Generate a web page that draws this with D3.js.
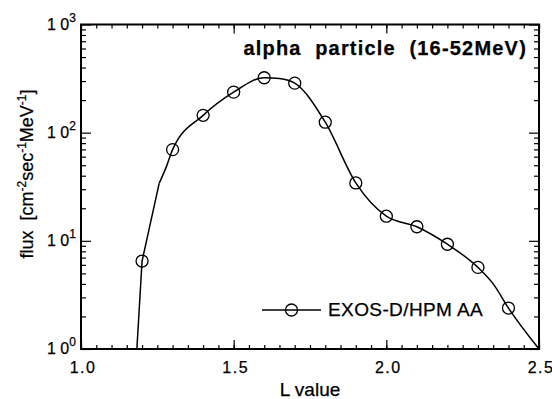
<!DOCTYPE html>
<html>
<head>
<meta charset="utf-8">
<script src="https://cdn.jsdelivr.net/npm/d3@7"></script>
<style>
  html, body { margin: 0; padding: 0; background: #fff; }
  svg { display: block; }
  text { font-family: "Liberation Sans", Arial, Helvetica, sans-serif; fill: #000; stroke: #000; stroke-width: 0.25px; }
</style>
</head>
<body>
<svg id="chart" width="552" height="399"></svg>
<script>
// Measured points (open circles)
const lValues = [1.2, 1.3, 1.4, 1.5, 1.6, 1.7, 1.8, 1.9, 2.0, 2.1, 2.2, 2.3, 2.4];
const fluxValues = [6.5, 69.7, 144.6, 237, 322, 287, 125, 34.3, 16.9, 13.5, 9.3, 5.68, 2.39];

// Model curve: steep inner edge drawn as straight segments ...
const edgeL = [1.183, 1.2, 1.256];
const edgeFlux = [1.0, 6.5, 34];
// ... and the smooth part from the knee outward
const curveL = [1.256, 1.28, 1.3, 1.4, 1.5, 1.6, 1.65, 1.7, 1.8, 1.9, 2.0, 2.1, 2.2, 2.3, 2.35, 2.4, 2.5];
const curveFlux = [34, 48.8, 69.7, 144.6, 237, 322, 316, 287, 125, 34.3, 16.9, 13.5, 9.3, 5.68, 4.0, 2.39, 1.0];

// Axis ticks
const xMajorTicks = [1.0, 1.5, 2.0, 2.5];
const xTickLabels = ["1.0", "1.5", "2.0", "2.5"];
const yMajorTicks = [1, 10, 100, 1000];
const yExponents = ["0", "1", "2", "3"];

const titleText = "alpha  particle  (16-52MeV)";
const legendLabel = "EXOS-D/HPM AA";

const svg = d3.select("#chart");
const plotLeft = 81, plotRight = 539, plotTop = 24.5, plotBottom = 349;

const x = d3.scaleLinear().domain([1.0, 2.5]).range([plotLeft, plotRight]);
const y = d3.scaleLog().domain([1, 1000]).range([plotBottom, plotTop]);

const xMinor = d3.range(0, 31).map(i => +(1.0 + i * 0.05).toFixed(2));
const yMinor = y.ticks().filter(v => !yMajorTicks.includes(v));

function styleAxis(g) {
  g.select(".domain").remove();
  g.selectAll(".tick line").attr("stroke", "#000").attr("stroke-width", 1.2);
  g.selectAll(".tick text").remove();
}

// inward ticks on all four sides
const axes = svg.append("g");
axes.append("g").attr("transform", `translate(0,${plotBottom})`)
  .call(d3.axisBottom(x).tickValues(xMinor).tickSize(-4)).call(styleAxis);
axes.append("g").attr("transform", `translate(0,${plotBottom})`)
  .call(d3.axisBottom(x).tickValues(xMajorTicks).tickSize(-9)).call(styleAxis);
axes.append("g").attr("transform", `translate(0,${plotTop})`)
  .call(d3.axisTop(x).tickValues(xMinor).tickSize(-4)).call(styleAxis);
axes.append("g").attr("transform", `translate(0,${plotTop})`)
  .call(d3.axisTop(x).tickValues(xMajorTicks).tickSize(-9)).call(styleAxis);
axes.append("g").attr("transform", `translate(${plotLeft},0)`)
  .call(d3.axisLeft(y).tickValues(yMinor).tickSize(-5)).call(styleAxis);
axes.append("g").attr("transform", `translate(${plotLeft},0)`)
  .call(d3.axisLeft(y).tickValues(yMajorTicks).tickSize(-10)).call(styleAxis);
axes.append("g").attr("transform", `translate(${plotRight},0)`)
  .call(d3.axisRight(y).tickValues(yMinor).tickSize(-5)).call(styleAxis);
axes.append("g").attr("transform", `translate(${plotRight},0)`)
  .call(d3.axisRight(y).tickValues(yMajorTicks).tickSize(-10)).call(styleAxis);

// plot frame
svg.append("rect")
  .attr("x", plotLeft).attr("y", plotTop)
  .attr("width", plotRight - plotLeft).attr("height", plotBottom - plotTop)
  .attr("fill", "none").attr("stroke", "#000").attr("stroke-width", 2);

// x tick labels
svg.append("g").selectAll("text").data(xMajorTicks).join("text")
  .attr("x", d => x(d) + 2).attr("y", plotBottom + 24)
  .attr("text-anchor", "middle")
  .attr("font-size", 16).attr("letter-spacing", 1.5)
  .text((d, i) => xTickLabels[i]);

// y tick labels: 10 with superscript exponent
const yl = svg.append("g").selectAll("text").data(yMajorTicks).join("text")
  .attr("x", 47).attr("y", d => y(d) + 5)
  .attr("font-size", 16)
  .attr("xml:space", "preserve");
yl.append("tspan").text("1 0");
yl.append("tspan").attr("font-size", 12).attr("dy", -8).text((d, i) => yExponents[i]);

// axis titles
svg.append("text")
  .attr("x", (plotLeft + plotRight) / 2).attr("y", 396)
  .attr("text-anchor", "middle").attr("font-size", 19)
  .text("L value");

const ylab = svg.append("text")
  .attr("transform", `translate(33,174) rotate(-90)`)
  .attr("text-anchor", "middle").attr("font-size", 18)
  .attr("xml:space", "preserve");
ylab.append("tspan").text("flux  [cm");
ylab.append("tspan").attr("font-size", 12).attr("dy", -7).text("-2");
ylab.append("tspan").attr("dy", 7).text("sec");
ylab.append("tspan").attr("font-size", 12).attr("dy", -7).text("-1");
ylab.append("tspan").attr("dy", 7).text("MeV");
ylab.append("tspan").attr("font-size", 12).attr("dy", -7).text("-1");
ylab.append("tspan").attr("dy", 7).text("]");

// title
svg.append("text")
  .attr("x", 527).attr("y", 55)
  .attr("text-anchor", "end").attr("font-size", 20).attr("font-weight", "bold")
  .attr("letter-spacing", 1.2)
  .attr("xml:space", "preserve")
  .text(titleText);

// model curve
const toPts = (ls, fs) => ls.map((l, i) => [l, fs[i]]);
const edgeLine = d3.line().x(d => x(d[0])).y(d => y(d[1])).curve(d3.curveLinear);
const smoothLine = d3.line().x(d => x(d[0])).y(d => y(d[1])).curve(d3.curveMonotoneX);
svg.append("path")
  .datum(toPts(edgeL, edgeFlux))
  .attr("d", edgeLine)
  .attr("fill", "none").attr("stroke", "#000").attr("stroke-width", 1.5)
  .attr("stroke-linejoin", "round");
svg.append("path")
  .datum(toPts(curveL, curveFlux))
  .attr("d", smoothLine)
  .attr("fill", "none").attr("stroke", "#000").attr("stroke-width", 1.5)
  .attr("stroke-linejoin", "round");

// measurement circles
svg.append("g").selectAll("circle").data(lValues).join("circle")
  .attr("cx", d => x(d)).attr("cy", (d, i) => y(fluxValues[i]))
  .attr("r", 6)
  .attr("fill", "none").attr("stroke", "#000").attr("stroke-width", 1.3);

// legend
const lg = svg.append("g");
lg.append("line").attr("x1", 262).attr("x2", 321).attr("y1", 310).attr("y2", 310)
  .attr("stroke", "#000").attr("stroke-width", 1.3);
lg.append("circle").attr("cx", 291.5).attr("cy", 310).attr("r", 6)
  .attr("fill", "none").attr("stroke", "#000").attr("stroke-width", 1.3);
lg.append("text").attr("x", 328).attr("y", 316)
  .attr("font-size", 19).attr("letter-spacing", 0.4)
  .text(legendLabel);
</script>
</body>
</html>
